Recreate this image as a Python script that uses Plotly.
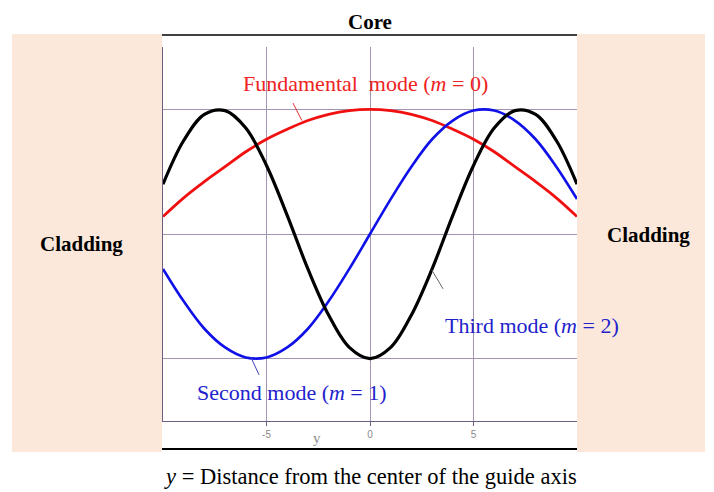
import plotly.graph_objects as go

# transverse position y (distance from guide axis)
y_pos = [-10, -9, -8, -7, -6, -5, -4, -3, -2, -1, 0, 1, 2, 3, 4, 5, 6, 7, 8, 9, 10]

# field amplitudes
mode_0 = [0.14, 0.29, 0.42, 0.54, 0.66, 0.76, 0.84, 0.91, 0.96, 0.99, 1.00,
          0.99, 0.96, 0.91, 0.84, 0.76, 0.66, 0.54, 0.42, 0.29, 0.14]
mode_1 = [-0.28, -0.54, -0.76, -0.91, -0.99, -0.99, -0.91, -0.76, -0.54, -0.28, 0.00,
          0.28, 0.54, 0.76, 0.91, 0.99, 0.99, 0.91, 0.76, 0.54, 0.28]
mode_2 = [0.40, 0.75, 0.96, 0.99, 0.85, 0.55, 0.15, -0.28, -0.65, -0.91, -1.00,
          -0.91, -0.65, -0.28, 0.15, 0.55, 0.85, 0.99, 0.96, 0.75, 0.40]

tick_vals = [-5, 0, 5]
tick_text = ["-5", "0", "5"]

serif = "Liberation Serif"
beige = "#fbe8db"
grid = "#a393b0"
axis = "#6e5f80"

fig = go.Figure()
fig.add_trace(go.Scatter(x=y_pos, y=mode_0, mode="lines", line=dict(color="#f01010", width=2.8, shape="spline"),
                         showlegend=False))
fig.add_trace(go.Scatter(x=y_pos, y=mode_1, mode="lines", line=dict(color="#1010e8", width=2.6, shape="spline"),
                         showlegend=False))
fig.add_trace(go.Scatter(x=y_pos, y=mode_2, mode="lines", line=dict(color="#000000", width=3.2, shape="spline"),
                         showlegend=False))

shapes = [
    # cladding blocks
    dict(type="rect", xref="paper", yref="paper", x0=-0.3647, x1=-0.0024, y0=-0.0829, y1=1.0348,
         fillcolor=beige, line_width=0, layer="below"),
    dict(type="rect", xref="paper", yref="paper", x0=1.0, x1=1.3092, y0=-0.0829, y1=1.0348,
         fillcolor=beige, line_width=0, layer="below"),
    # core borders
    dict(type="line", xref="paper", yref="paper", x0=-0.0024, x1=1.0, y0=1.032, y1=1.032,
         line=dict(color="black", width=1.5)),
    dict(type="line", xref="paper", yref="paper", x0=-0.0024, x1=1.0, y0=-0.0749, y1=-0.0749,
         line=dict(color="black", width=2)),
    # leader lines
    dict(type="line", x0=-3.72, y0=1.05, x1=-3.29, y1=0.91, line=dict(color="#e03030", width=1)),
    dict(type="line", x0=-5.75, y0=-0.99, x1=-5.36, y1=-1.13, line=dict(color="#4040c0", width=1)),
    dict(type="line", x0=2.99, y0=-0.29, x1=3.53, y1=-0.44, line=dict(color="#666666", width=1)),
]

annotations = [
    dict(x=-0.24, y=1.21, xref="x", yref="y", text="Fundamental\u00a0 mode (<i>m</i> = 0)",
         font=dict(family=serif, size=22, color="#ee2222")),
    dict(x=-3.77, y=-1.27, xref="x", yref="y", text="Second mode (<i>m</i> = 1)",
         font=dict(family=serif, size=22, color="#2222cc")),
    dict(x=7.83, y=-0.73, xref="x", yref="y", text="Third mode (<i>m</i> = 2)",
         font=dict(family=serif, size=22, color="#2222cc")),
    dict(x=-0.1957, y=0.4733, xref="paper", yref="paper", text="<b>Cladding</b>",
         font=dict(family=serif, size=21, color="black")),
    dict(x=1.1715, y=0.4973, xref="paper", yref="paper", text="<b>Cladding</b>",
         font=dict(family=serif, size=21, color="black")),
    dict(x=0.372, y=-0.0455, xref="paper", yref="paper", text="y",
         font=dict(family=serif, size=15, color="#8a8a8a")),
    dict(x=0.5024, y=-0.1497, xref="paper", yref="paper",
         text="<i>y</i> = Distance from the center of the guide axis",
         font=dict(family=serif, size=22.5, color="black")),
]
for a in annotations:
    a["showarrow"] = False
    a["xanchor"] = "center"
    a["yanchor"] = "middle"

# title over the core, hung from the top edge of the figure
annotations.append(dict(x=0.5, y=1.1043, xref="paper", yref="paper", text="<b>Core</b>",
                        showarrow=False, xanchor="center", yanchor="top",
                        font=dict(family=serif, size=21, color="black")))

# page body has an 8px margin, so the figure is 8px smaller each way
fig.update_layout(
    width=706, height=484,
    margin=dict(l=155, r=137, t=39, b=71),
    paper_bgcolor="white", plot_bgcolor="white",
    shapes=shapes, annotations=annotations,
    xaxis=dict(range=[-10, 10], tickvals=tick_vals, ticktext=tick_text, showgrid=True, gridcolor=grid,
               gridwidth=1, zeroline=False, showline=True, linecolor=axis, linewidth=1,
               ticks="outside", ticklen=4, tickcolor=axis,
               tickfont=dict(family="Liberation Sans", size=10, color="#8a8a8a")),
    yaxis=dict(range=[-1.5, 1.5], tickvals=[-1, 0, 1], showticklabels=False, showgrid=True, gridcolor=grid,
               gridwidth=1, zeroline=False, showline=True, linecolor=axis, linewidth=1, ticks=""),
)

fig.write_html("out.html")
